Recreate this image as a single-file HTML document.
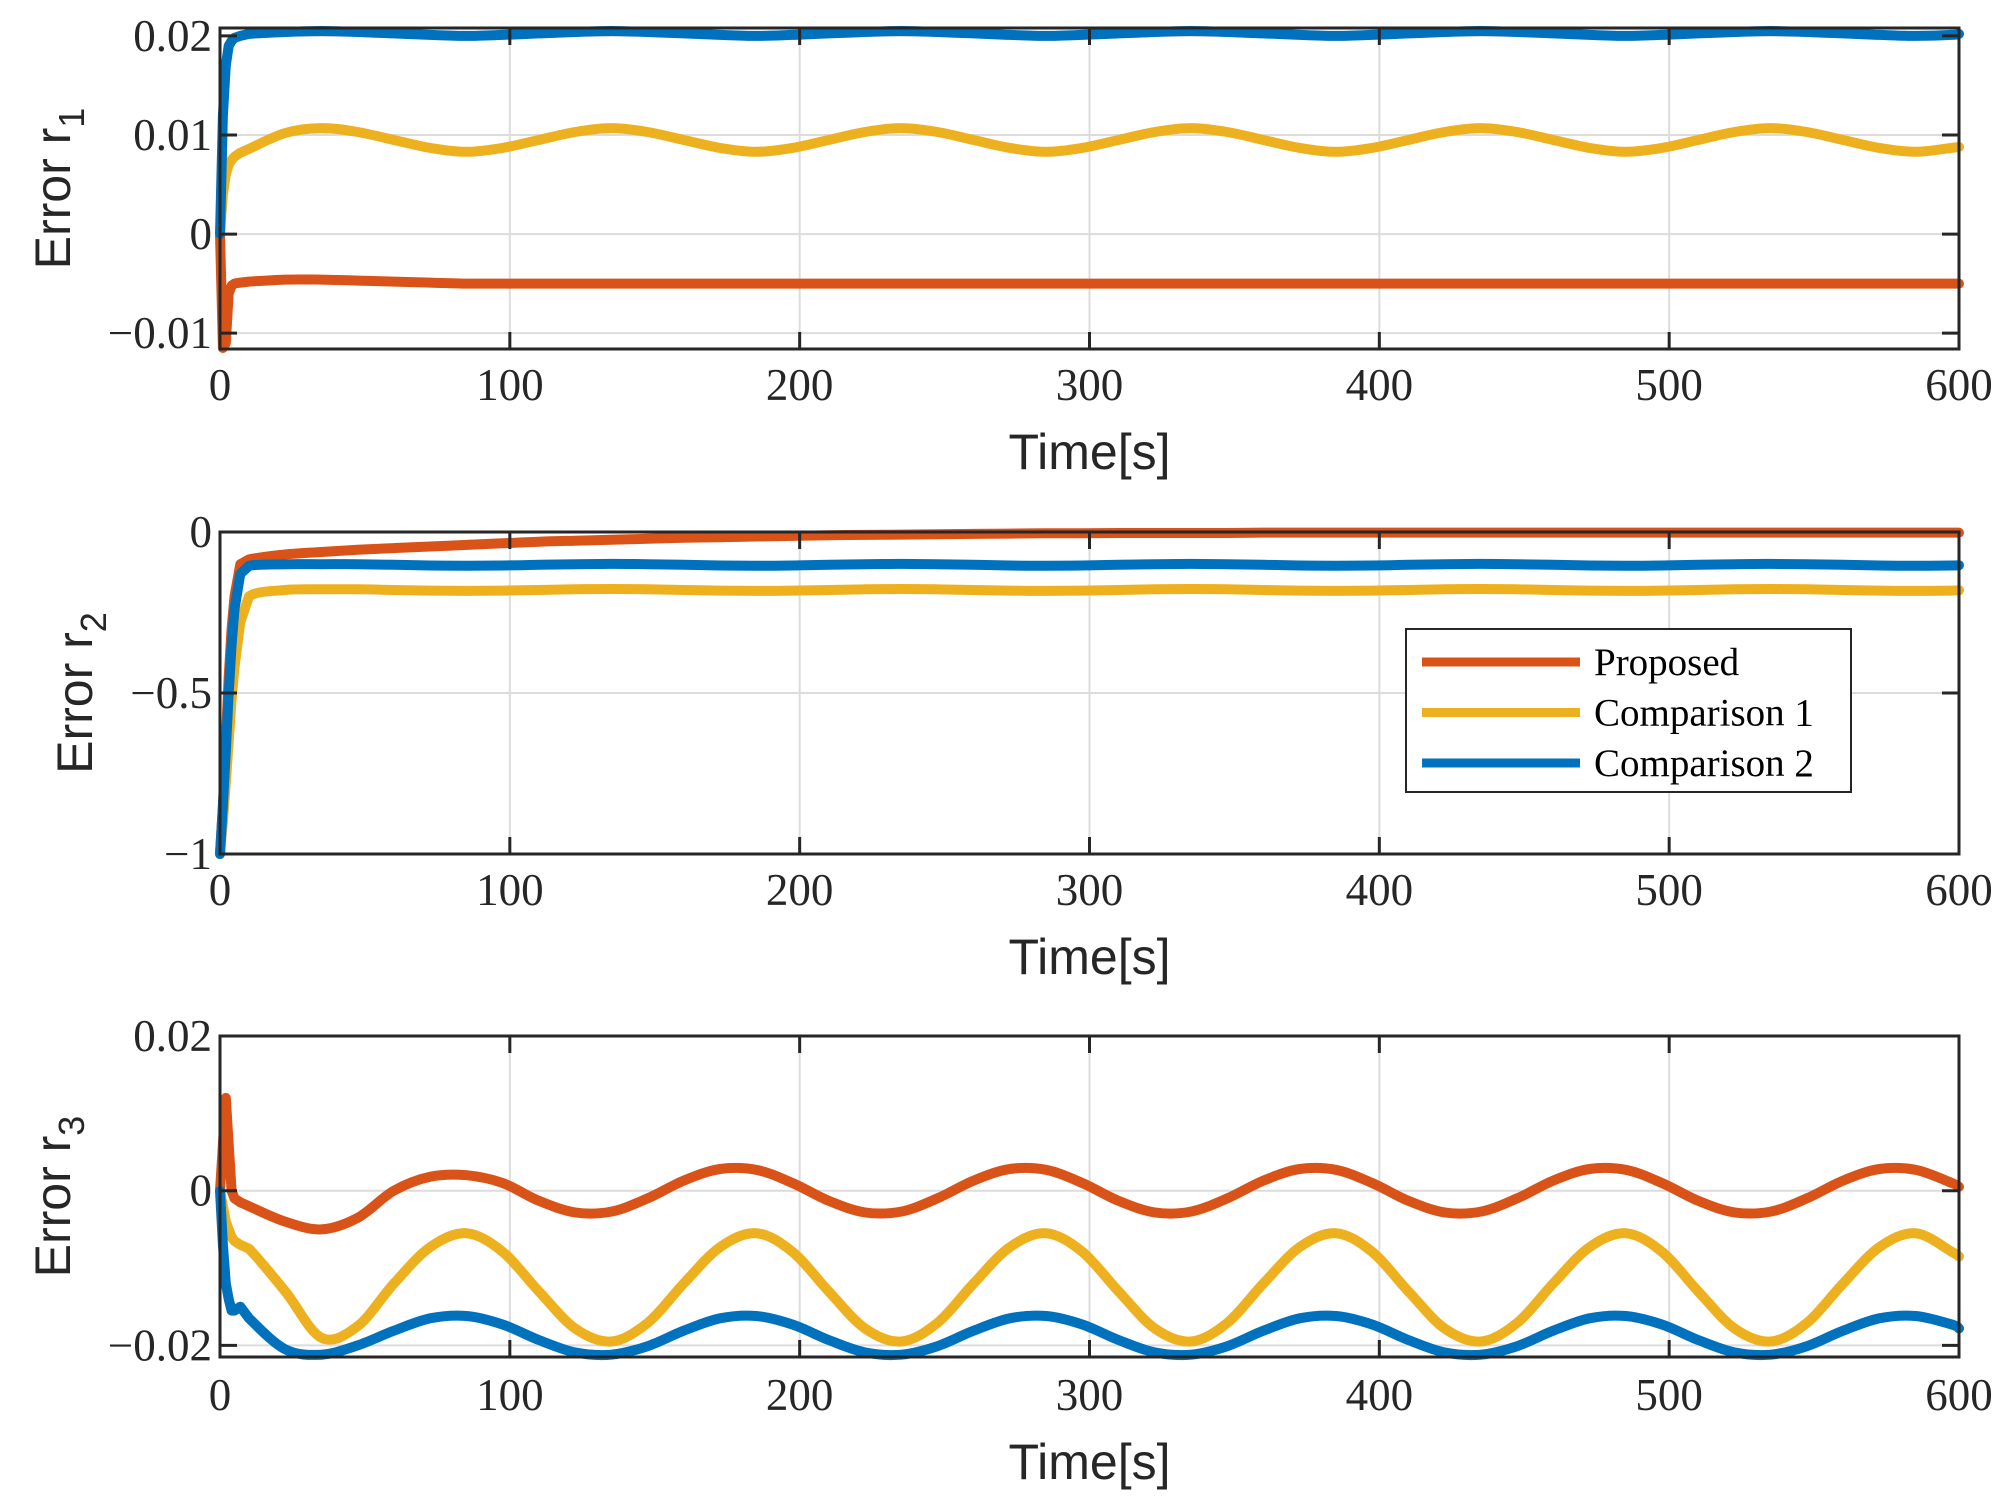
<!DOCTYPE html>
<html><head><meta charset="utf-8"><style>
html,body{margin:0;padding:0;background:#fff;}
svg{display:block;}
.tick{font-family:"Liberation Serif",serif;font-size:45px;fill:#262626;}
.lab{font-family:"Liberation Sans",sans-serif;font-size:50px;fill:#262626;}
.leg{font-family:"Liberation Serif",serif;font-size:39px;fill:#000;}
</style></head><body>
<svg id="chart" width="2009" height="1503" viewBox="0 0 2009 1503" xmlns="http://www.w3.org/2000/svg"></svg>
<script>
const times=[0,1,2,3,4,5,7,10,22.5,35,47.5,60,72.5,85,97.5,110,122.5,135,147.5,160,172.5,185,197.5,210,222.5,235,247.5,260,272.5,285,297.5,310,322.5,335,347.5,360,372.5,385,397.5,410,422.5,435,447.5,460,472.5,485,497.5,510,522.5,535,547.5,560,572.5,585,597.5,600];
const xTicks=[0,100,200,300,400,500,600];
const seriesNames=["Proposed","Comparison 1","Comparison 2"];
const colors=["#D95319","#EDB120","#0072BD"];
// Panel 1 (r1)
const r1Proposed=[0,-0.0115,-0.011,-0.006,-0.0052,-0.005,-0.0049,-0.0048,-0.0046,-0.0046,-0.0047,-0.0048,-0.0049,-0.005,-0.005,-0.005,-0.005,-0.005,-0.005,-0.005,-0.005,-0.005,-0.005,-0.005,-0.005,-0.005,-0.005,-0.005,-0.005,-0.005,-0.005,-0.005,-0.005,-0.005,-0.005,-0.005,-0.005,-0.005,-0.005,-0.005,-0.005,-0.005,-0.005,-0.005,-0.005,-0.005,-0.005,-0.005,-0.005,-0.005,-0.005,-0.005,-0.005,-0.005,-0.005,-0.005];
const r1Comp1=[0,0.004,0.006,0.007,0.0075,0.0078,0.0082,0.0086,0.0102,0.0107,0.0103,0.0095,0.0087,0.0083,0.0087,0.0095,0.0103,0.0107,0.0103,0.0095,0.0087,0.0083,0.0087,0.0095,0.0103,0.0107,0.0103,0.0095,0.0087,0.0083,0.0087,0.0095,0.0103,0.0107,0.0103,0.0095,0.0087,0.0083,0.0087,0.0095,0.0103,0.0107,0.0103,0.0095,0.0087,0.0083,0.0087,0.0095,0.0103,0.0107,0.0103,0.0095,0.0087,0.0083,0.0087,0.0088];
const r1Comp2=[0,0.012,0.017,0.019,0.0195,0.0198,0.02,0.0202,0.0204,0.0205,0.0204,0.02025,0.0201,0.02,0.0201,0.02025,0.0204,0.0205,0.0204,0.02025,0.0201,0.02,0.0201,0.02025,0.0204,0.0205,0.0204,0.02025,0.0201,0.02,0.0201,0.02025,0.0204,0.0205,0.0204,0.02025,0.0201,0.02,0.0201,0.02025,0.0204,0.0205,0.0204,0.02025,0.0201,0.02,0.0201,0.02025,0.0204,0.0205,0.0204,0.02025,0.0201,0.02,0.0201,0.0202];
const r1Ticks=[-0.01,0,0.01,0.02];
const r1TickLabels=["\u22120.01","0","0.01","0.02"];
// Panel 2 (r2)
const r2Proposed=[-1,-0.85,-0.65,-0.45,-0.3,-0.2,-0.1,-0.085,-0.07,-0.062,-0.055,-0.05,-0.045,-0.04,-0.035,-0.03,-0.027,-0.024,-0.021,-0.018,-0.016,-0.014,-0.012,-0.01,-0.009,-0.008,-0.007,-0.006,-0.005,-0.004,-0.004,-0.003,-0.003,-0.003,-0.003,-0.002,-0.002,-0.002,-0.002,-0.002,-0.002,-0.002,-0.002,-0.002,-0.002,-0.002,-0.002,-0.002,-0.002,-0.002,-0.002,-0.002,-0.002,-0.002,-0.002,-0.002];
const r2Comp1=[-1,-0.9,-0.78,-0.65,-0.52,-0.42,-0.28,-0.2,-0.18,-0.178,-0.178,-0.18,-0.182,-0.183,-0.182,-0.18,-0.178,-0.177,-0.178,-0.18,-0.182,-0.183,-0.182,-0.18,-0.178,-0.177,-0.178,-0.18,-0.182,-0.183,-0.182,-0.18,-0.178,-0.177,-0.178,-0.18,-0.182,-0.183,-0.182,-0.18,-0.178,-0.177,-0.178,-0.18,-0.182,-0.183,-0.182,-0.18,-0.178,-0.177,-0.178,-0.18,-0.182,-0.183,-0.182,-0.181];
const r2Comp2=[-1,-0.85,-0.68,-0.5,-0.35,-0.24,-0.13,-0.105,-0.1,-0.1,-0.1,-0.102,-0.104,-0.105,-0.104,-0.102,-0.1,-0.099,-0.1,-0.102,-0.104,-0.105,-0.104,-0.102,-0.1,-0.099,-0.1,-0.102,-0.104,-0.105,-0.104,-0.102,-0.1,-0.099,-0.1,-0.102,-0.104,-0.105,-0.104,-0.102,-0.1,-0.099,-0.1,-0.102,-0.104,-0.105,-0.104,-0.102,-0.1,-0.099,-0.1,-0.102,-0.104,-0.105,-0.104,-0.103];
const r2Ticks=[-1,-0.5,0];
const r2TickLabels=["\u22121","\u22120.5","0"];
// Panel 3 (r3)
const r3Proposed=[0,0.006,0.012,0.006,0,-0.001,-0.0015,-0.002,-0.004,-0.005,-0.0035,0,0.0018,0.002,0.001,-0.0013,-0.0028,-0.0027,-0.001,0.0013,0.0028,0.0027,0.001,-0.0013,-0.0028,-0.0027,-0.001,0.0013,0.0028,0.0027,0.001,-0.0013,-0.0028,-0.0027,-0.001,0.0013,0.0028,0.0027,0.001,-0.0013,-0.0028,-0.0027,-0.001,0.0013,0.0028,0.0027,0.001,-0.0013,-0.0028,-0.0027,-0.001,0.0013,0.0028,0.0027,0.001,0.0005];
const r3Comp1=[0,-0.002,-0.004,-0.005,-0.006,-0.0065,-0.007,-0.0075,-0.013,-0.019,-0.0175,-0.012,-0.0073,-0.0055,-0.0079,-0.013,-0.0178,-0.0195,-0.0171,-0.012,-0.0073,-0.0055,-0.0079,-0.013,-0.0178,-0.0195,-0.0171,-0.012,-0.0073,-0.0055,-0.0079,-0.013,-0.0178,-0.0195,-0.0171,-0.012,-0.0073,-0.0055,-0.0079,-0.013,-0.0178,-0.0195,-0.0171,-0.012,-0.0073,-0.0055,-0.0079,-0.013,-0.0178,-0.0195,-0.0171,-0.012,-0.0073,-0.0055,-0.0079,-0.0085];
const r3Comp2=[0,-0.007,-0.012,-0.014,-0.0155,-0.0155,-0.015,-0.0165,-0.0205,-0.0212,-0.02,-0.0181,-0.0165,-0.0162,-0.0173,-0.0193,-0.0209,-0.0212,-0.0201,-0.0181,-0.0165,-0.0162,-0.0173,-0.0193,-0.0209,-0.0212,-0.0201,-0.0181,-0.0165,-0.0162,-0.0173,-0.0193,-0.0209,-0.0212,-0.0201,-0.0181,-0.0165,-0.0162,-0.0173,-0.0193,-0.0209,-0.0212,-0.0201,-0.0181,-0.0165,-0.0162,-0.0173,-0.0193,-0.0209,-0.0212,-0.0201,-0.0181,-0.0165,-0.0162,-0.0173,-0.0178];
const r3Ticks=[-0.02,0,0.02];
const r3TickLabels=["\u22120.02","0","0.02"];

const NS="http://www.w3.org/2000/svg";
const svg=document.getElementById('chart');
const L=220,R=1959;
function xs(t){return L+(t/600)*(R-L);}
function mk(tag,attrs,parent){const e=document.createElementNS(NS,tag);for(const k in attrs)e.setAttribute(k,attrs[k]);(parent||svg).appendChild(e);return e;}
function pathFor(ts,vs,ys){
  const p=ts.map((t,i)=>[xs(t),ys(vs[i])]);
  let d="M"+p[0][0].toFixed(1)+","+p[0][1].toFixed(1);
  for(let i=0;i<p.length-1;i++){
    const p0=p[Math.max(0,i-1)],p1=p[i],p2=p[i+1],p3=p[Math.min(p.length-1,i+2)];
    if(ts[i+1]<=10||ts[i]<10){d+=" L"+p2[0].toFixed(1)+","+p2[1].toFixed(1);continue;}
    const c1=[p1[0]+(p2[0]-p0[0])/6,p1[1]+(p2[1]-p0[1])/6];
    const c2=[p2[0]-(p3[0]-p1[0])/6,p2[1]-(p3[1]-p1[1])/6];
    d+=" C"+c1[0].toFixed(1)+","+c1[1].toFixed(1)+" "+c2[0].toFixed(1)+","+c2[1].toFixed(1)+" "+p2[0].toFixed(1)+","+p2[1].toFixed(1);
  }
  return d;
}
const panels=[
 {id:1,top:28,bot:349,ymin:-0.0116,ymax:0.0208,ticks:r1Ticks,labels:r1TickLabels,series:[r1Proposed,r1Comp1,r1Comp2],tickY:400,xlabY:469,ylx:70},
 {id:2,top:532,bot:854,ymin:-1,ymax:0,ticks:r2Ticks,labels:r2TickLabels,series:[r2Proposed,r2Comp1,r2Comp2],tickY:905,xlabY:974,ylx:92},
 {id:3,top:1036,bot:1357,ymin:-0.0215,ymax:0.02,ticks:r3Ticks,labels:r3TickLabels,series:[r3Proposed,r3Comp1,r3Comp2],tickY:1410,xlabY:1479,ylx:70}
];
panels.forEach(pn=>{
  const ys=v=>pn.bot-(v-pn.ymin)/(pn.ymax-pn.ymin)*(pn.bot-pn.top);
  const g=mk('g',{});
  
  
  xTicks.forEach(t=>{
    const l=mk('line',{x1:xs(t),x2:xs(t),y1:pn.top,y2:pn.bot,stroke:'#dcdcdc','stroke-width':2},g);
    
    
  });
  pn.ticks.forEach(v=>{
    const l=mk('line',{x1:L,x2:R,y1:ys(v),y2:ys(v),stroke:'#dcdcdc','stroke-width':2},g);
    
    
  });
  pn.series.forEach((vals,si)=>{
    const p=mk('path',{d:pathFor(times,vals,ys),fill:'none',stroke:colors[si],'stroke-width':10,'stroke-linejoin':'round','stroke-linecap':'round'},g);
    
    
  });
  const box=mk('rect',{x:L,y:pn.top,width:R-L,height:pn.bot-pn.top,fill:'none',stroke:'#262626','stroke-width':3},g);
  
  
  xTicks.forEach(t=>{
    mk('line',{x1:xs(t),x2:xs(t),y1:pn.bot,y2:pn.bot-17,stroke:'#262626','stroke-width':3},g);
    mk('line',{x1:xs(t),x2:xs(t),y1:pn.top,y2:pn.top+17,stroke:'#262626','stroke-width':3},g);
    const tx=mk('text',{x:xs(t),y:pn.tickY,'text-anchor':'middle',class:'tick'},g);
    tx.textContent=String(t);
    
    
  });
  pn.ticks.forEach((v,i)=>{
    mk('line',{x1:L,x2:L+17,y1:ys(v),y2:ys(v),stroke:'#262626','stroke-width':3},g);
    mk('line',{x1:R,x2:R-17,y1:ys(v),y2:ys(v),stroke:'#262626','stroke-width':3},g);
    const tx=mk('text',{x:L-8,y:ys(v)+15,'text-anchor':'end',class:'tick'},g);
    tx.textContent=pn.labels[i];
    
    
  });
  const xl=mk('text',{x:(L+R)/2,y:pn.xlabY,'text-anchor':'middle',class:'lab'},g);
  xl.textContent='Time[s]';
  
  
  const cy=(pn.top+pn.bot)/2;
  const yx=pn.ylx;
  const yl=mk('text',{x:yx,y:cy,'text-anchor':'middle',class:'lab',transform:`rotate(-90 ${yx} ${cy})`},g);
  yl.innerHTML='Error r<tspan dy="14" font-size="36">'+pn.id+'</tspan>';
  
  
});
// legend
const lg=mk('g',{});


mk('rect',{x:1406,y:629,width:445,height:163,fill:'#fff',stroke:'#262626','stroke-width':2},lg);
seriesNames.forEach((n,i)=>{
  const y=662+i*50.5;
  const e=mk('g',{},lg);
  
  
  mk('line',{x1:1422,x2:1580,y1:y,y2:y,stroke:colors[i],'stroke-width':9},e);
  const t=mk('text',{x:1594,y:y+13,class:'leg'},e);
  t.textContent=n;
});
</script>
</body></html>
